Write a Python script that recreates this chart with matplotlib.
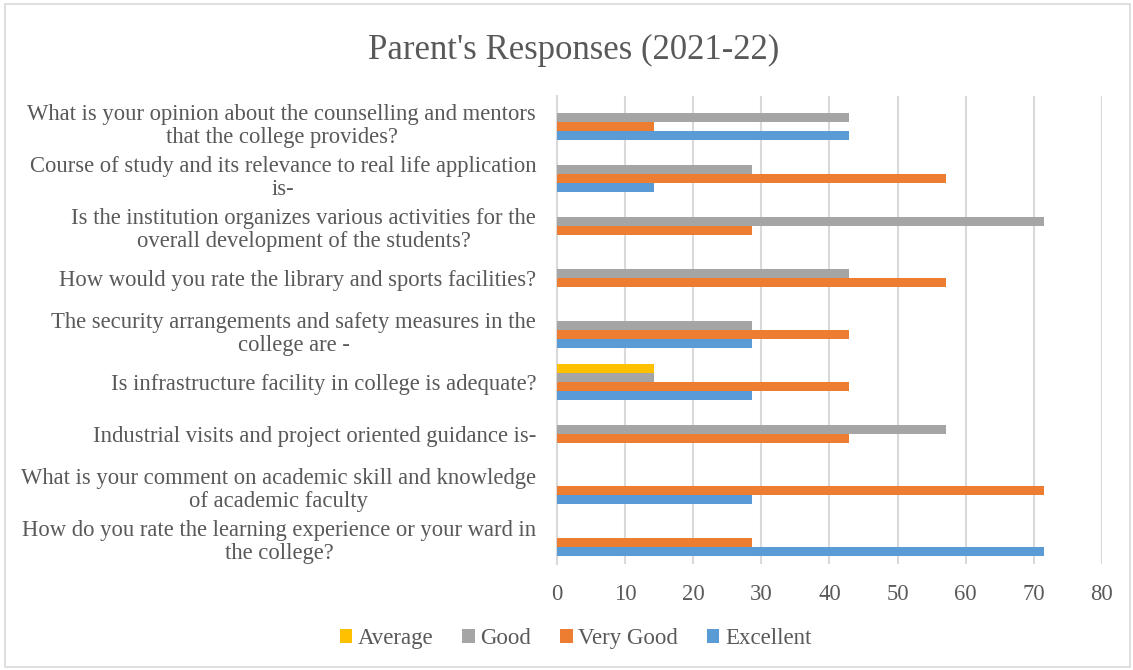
import numpy as np
import matplotlib.pyplot as plt
from matplotlib.patches import Rectangle

plt.rcParams['font.family'] = ['Liberation Serif', 'DejaVu Serif']

# categories listed bottom to top (Excel order)
questions = [
    "How do you rate the learning experience or your ward in\nthe college?",
    "What is your comment on academic skill and knowledge\nof academic faculty",
    "Industrial visits and project oriented guidance is-",
    "Is infrastructure facility in college is adequate?",
    "The security arrangements and safety measures in the\ncollege are -",
    "How would you rate the library and sports facilities?",
    "Is the institution organizes various activities for the\noverall development of the students?",
    "Course of study and its relevance to real life application\nis-",
    "What is your opinion about the counselling and mentors\nthat the college provides?",
]
excellent = [71.43, 28.57, 0, 28.57, 28.57, 0, 0, 14.29, 42.86]
very_good = [28.57, 71.43, 42.86, 42.86, 42.86, 57.14, 28.57, 57.14, 14.29]
good = [0, 0, 57.14, 14.29, 28.57, 42.86, 71.43, 28.57, 42.86]
average = [0, 0, 0, 14.29, 0, 0, 0, 0, 0]

series = [("Excellent", excellent, "#5B9BD5"),
          ("Very Good", very_good, "#ED7D31"),
          ("Good", good, "#A5A5A5"),
          ("Average", average, "#FFC000")]

fig = plt.figure(figsize=(11.33, 6.70), dpi=100)
ax = fig.add_axes([0.4916, 0.1575, 0.481, 0.6985])

y = np.arange(len(questions))
h = 0.173
for i, (name, vals, col) in enumerate(series):
    ax.barh(y + (i - 1.5) * h, vals, height=h, color=col, label=name, zorder=3)

ax.set_xlim(0, 80)
ax.set_ylim(-0.5, len(questions) - 0.5)
ax.set_xticks(range(0, 81, 10))
ax.set_yticks(y)
ax.set_yticklabels(questions, multialignment='center', linespacing=1.15)
ax.tick_params(axis='x', length=0, pad=14, labelsize=16.3, labelcolor='#595959')
ax.tick_params(axis='y', length=0, pad=15, labelsize=16.3, labelcolor='#595959')
ax.grid(axis='x', color='#D9D9D9', linewidth=1.5, zorder=0)
for s in ['top', 'right', 'bottom']:
    ax.spines[s].set_visible(False)
ax.spines['left'].set_color('#D9D9D9')
ax.spines['left'].set_linewidth(1.5)

fig.text(0.506, 0.924, "Parent's Responses (2021-22)", ha='center', va='center',
         fontsize=25, color='#595959')

handles, labels = ax.get_legend_handles_labels()
fig.legend(handles[::-1], labels[::-1], loc='center', bbox_to_anchor=(0.508, 0.047),
           ncol=4, frameon=False, fontsize=16.5, labelcolor='#595959',
           handlelength=0.55, handleheight=0.55, handletextpad=0.25, columnspacing=1.25)

fig.patches.append(Rectangle((0.004, 0.004), 0.993, 0.99, transform=fig.transFigure,
                             fill=False, edgecolor='#D9D9D9', linewidth=1.2))

fig.savefig('out.png', dpi=100, facecolor='white')
